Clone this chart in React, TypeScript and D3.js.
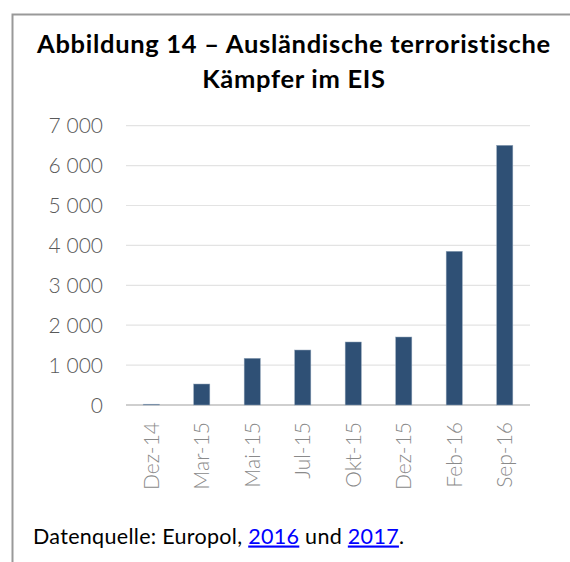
import React from "react";
import * as d3 from "d3";

const categories = ["Dez-14", "Mar-15", "Mai-15", "Jul-15", "Okt-15", "Dez-15", "Feb-16", "Sep-16"];
const values = [20, 526, 1170, 1378, 1579, 1704, 3852, 6508];
const yTicks = [0, 1000, 2000, 3000, 4000, 5000, 6000, 7000];
const titleLines = ["Abbildung 14 – Ausländische terroristische", "Kämpfer im EIS"];

const W = 570;
const H = 562;
const plot = { left: 126, right: 530, top: 125.7, bottom: 405 };

const fmt = (v: number) => (v >= 1000 ? `${Math.floor(v / 1000)} ${String(v % 1000).padStart(3, "0")}` : String(v));

export default function App() {
  const x = d3.scaleBand<string>().domain(categories).range([plot.left, plot.right]).paddingInner(0.68).paddingOuter(0.34);
  const y = d3.scaleLinear().domain([0, 7000]).range([plot.bottom, plot.top]);
  const font = "Lato, 'Open Sans', sans-serif";
  return (
    <svg width={W} height={H} style={{ position: "absolute", left: 0, top: 0, background: "#fff" }} fontFamily={font}>
      <path d={`M12.5,${H} V14.5 H${W}`} fill="none" stroke="#999" strokeWidth={2} />
      {titleLines.map((t, i) => (
        <text key={i} x={294} y={53 + i * 35} textAnchor="middle" fontSize={25.5} fontWeight={700} letterSpacing={0.7} fill="#000">
          {t}
        </text>
      ))}
      {yTicks.map((t) => (
        <g key={t}>
          <line x1={plot.left} x2={plot.right} y1={y(t)} y2={y(t)} stroke={t === 0 ? "#bfbfbf" : "#e3e3e3"} strokeWidth={t === 0 ? 1.5 : 1.2} />
          <text x={103} y={y(t)} dy="0.36em" textAnchor="end" fontSize={21} fill="#595959" fontWeight={300}>
            {fmt(t)}
          </text>
        </g>
      ))}
      {categories.map((c, i) => (
        <rect key={c} x={x(c)} width={x.bandwidth()} y={y(values[i])} height={y(0) - y(values[i])} fill="#2f5075" stroke="#8fa3b8" strokeWidth={0.5} />
      ))}
      {categories.map((c) => {
        const cx = (x(c) as number) + x.bandwidth() / 2;
        return (
          <text key={c} transform={`translate(${cx + 7.5},422) rotate(-90)`} textAnchor="end" fontSize={21} fill="#8a8a8a" fontWeight={300}>
            {c}
          </text>
        );
      })}
      <text x={33} y={543.5} fontSize={21.5} letterSpacing={0.3} fill="#000">
        Datenquelle: Europol,{" "}
        <tspan fill="#0000ff" textDecoration="underline">2016</tspan> und{" "}
        <tspan fill="#0000ff" textDecoration="underline">2017</tspan>.
      </text>
    </svg>
  );
}
